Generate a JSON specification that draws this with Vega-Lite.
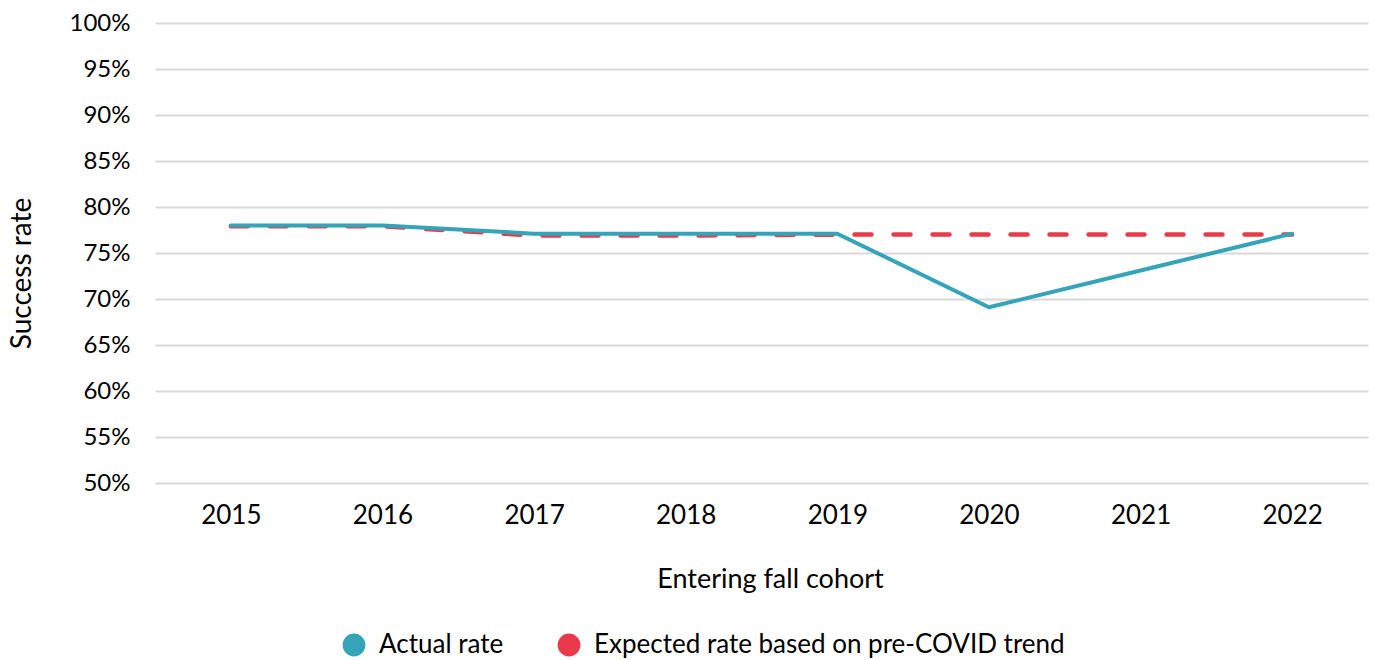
{
  "$schema": "https://vega.github.io/schema/vega-lite/v6.json",
  "width": 1213,
  "height": 460,
  "autosize": {"type": "none"},
  "padding": {"left": 155, "top": 23, "right": 6, "bottom": 177},
  "background": "white",
  "config": {
    "font": "Lato",
    "view": {"stroke": null},
    "axis": {"labelFont": "Lato", "titleFont": "Lato", "labelColor": "#000000", "titleColor": "#000000", "titleFontWeight": "normal"}
  },
  "data": {
    "values": [
      {"year": "2015", "series": "Actual rate", "rate": 0.78},
      {"year": "2016", "series": "Actual rate", "rate": 0.78},
      {"year": "2017", "series": "Actual rate", "rate": 0.771},
      {"year": "2018", "series": "Actual rate", "rate": 0.771},
      {"year": "2019", "series": "Actual rate", "rate": 0.771},
      {"year": "2020", "series": "Actual rate", "rate": 0.691},
      {"year": "2021", "series": "Actual rate", "rate": 0.731},
      {"year": "2022", "series": "Actual rate", "rate": 0.771},
      {"year": "2015", "series": "Expected rate based on pre-COVID trend", "rate": 0.779},
      {"year": "2016", "series": "Expected rate based on pre-COVID trend", "rate": 0.779},
      {"year": "2017", "series": "Expected rate based on pre-COVID trend", "rate": 0.769},
      {"year": "2018", "series": "Expected rate based on pre-COVID trend", "rate": 0.769},
      {"year": "2019", "series": "Expected rate based on pre-COVID trend", "rate": 0.77},
      {"year": "2020", "series": "Expected rate based on pre-COVID trend", "rate": 0.77},
      {"year": "2021", "series": "Expected rate based on pre-COVID trend", "rate": 0.77},
      {"year": "2022", "series": "Expected rate based on pre-COVID trend", "rate": 0.77}
    ]
  },
  "encoding": {
    "x": {
      "field": "year", "type": "ordinal",
      "scale": {"paddingInner": 0, "paddingOuter": 0, "align": 0.5},
      "axis": {"title": "Entering fall cohort", "labelFontSize": 26, "titleFontSize": 27, "labelAngle": 0, "ticks": false, "domain": false, "grid": false, "labelPadding": 19, "titlePadding": 38, "titleX": 615}
    },
    "y": {
      "field": "rate", "type": "quantitative",
      "scale": {"domain": [0.5, 1], "nice": false, "zero": false},
      "axis": {"title": "Success rate", "labelFontSize": 24, "titleFontSize": 28, "format": ".0%", "values": [0.5, 0.55, 0.6, 0.65, 0.7, 0.75, 0.8, 0.85, 0.9, 0.95, 1.0], "ticks": false, "domain": false, "grid": true, "gridColor": "#d9d9d9", "gridWidth": 2, "labelPadding": 25, "titlePadding": 33, "titleY": 250}
    },
    "color": {
      "field": "series", "type": "nominal",
      "scale": {"domain": ["Actual rate", "Expected rate based on pre-COVID trend"], "range": ["#35a4b9", "#e83a4b"]},
      "legend": {
        "title": null, "orient": "none", "direction": "horizontal",
        "legendX": 186, "legendY": 609,
        "symbolType": "circle", "symbolSize": 520, "symbolStrokeWidth": 0,
        "labelFont": "Lato", "labelFontSize": 26, "labelColor": "#000000", "labelOffset": 12, "labelLimit": 1000,
        "columnPadding": 52,
        "encode": {"symbols": {"update": {"fill": {"scale": "color", "field": "value"}, "stroke": {"value": "transparent"}, "opacity": {"value": 1}}}}
      }
    }
  },
  "layer": [
    {
      "transform": [{"filter": "datum.series !== 'Actual rate'"}],
      "mark": {"type": "line", "strokeWidth": 4.5, "strokeDash": [17, 22], "strokeCap": "round"}
    },
    {
      "transform": [{"filter": "datum.series === 'Actual rate'"}],
      "mark": {"type": "line", "strokeWidth": 4, "strokeCap": "round", "strokeJoin": "round"}
    }
  ]
}
